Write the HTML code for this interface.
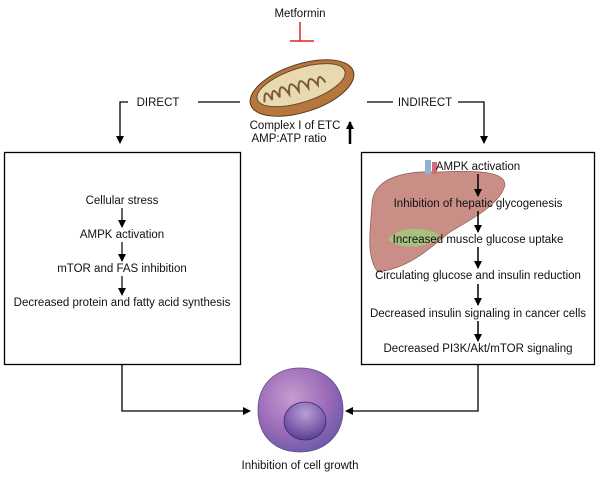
<!DOCTYPE html>
<html><head><style>
body{margin:0;background:#fff;width:600px;height:476px;overflow:hidden}
svg text{font-family:"Liberation Sans",sans-serif;font-size:11.5px;fill:#111}
</style></head><body>
<svg width="600" height="476" viewBox="0 0 600 476" xmlns="http://www.w3.org/2000/svg">
<defs>
<marker id="a" markerWidth="8" markerHeight="8" refX="7" refY="4" orient="auto" markerUnits="userSpaceOnUse"><path d="M0,0 L8,4 L0,8z" fill="#000"/></marker>
<radialGradient id="cg" cx="0.4" cy="0.35" r="0.7"><stop offset="0" stop-color="#c79bd0"/><stop offset="0.6" stop-color="#9b6bb8"/><stop offset="1" stop-color="#6a5aa8"/></radialGradient>
<radialGradient id="ng" cx="0.5" cy="0.3" r="0.7"><stop offset="0" stop-color="#b99fd6"/><stop offset="1" stop-color="#5b3f96"/></radialGradient>
</defs>
<text x="300" y="17" text-anchor="middle">Metformin</text>
<line x1="300" y1="22" x2="300" y2="41" stroke="#e0201e" stroke-width="1.5"/>
<line x1="290" y1="41" x2="314" y2="41" stroke="#e0201e" stroke-width="1.5"/>
<g transform="rotate(-18 302 88)">
<ellipse cx="302" cy="88" rx="54" ry="24" fill="#b5773d" stroke="#5a3a1a"/>
<ellipse cx="302" cy="85" rx="46" ry="17" fill="#e9d9b0" stroke="#6b4a26"/>
<path d="M262,90 q4,-16 8,0 q4,-16 8,0 q4,-18 10,0 q4,-18 10,0 q4,-18 10,0 q4,-16 10,0 q4,-14 8,0" fill="none" stroke="#7a5a30" stroke-width="2"/>
</g>
<polyline points="128,102 120,102 120,143" fill="none" stroke="#000" stroke-width="1.3" marker-end="url(#a)"/>
<text x="158" y="106" text-anchor="middle">DIRECT</text>
<line x1="198" y1="102" x2="240" y2="102" stroke="#000" stroke-width="1.3"/>
<line x1="367" y1="102" x2="393" y2="102" stroke="#000" stroke-width="1.3"/>
<text x="425" y="106" text-anchor="middle">INDIRECT</text>
<polyline points="458,102 484,102 484,143" fill="none" stroke="#000" stroke-width="1.3" marker-end="url(#a)"/>
<text x="295" y="129" text-anchor="middle">Complex I of ETC</text>
<text x="289" y="142" text-anchor="middle">AMP:ATP ratio</text>
<line x1="350" y1="144" x2="350" y2="122" stroke="#000" stroke-width="2.5" marker-end="url(#a)"/>
<rect x="4.5" y="152.5" width="236" height="212" fill="none" stroke="#000" stroke-width="1.3"/>
<g text-anchor="middle">
<text x="122" y="204">Cellular stress</text>
<text x="122" y="238">AMPK activation</text>
<text x="122" y="272">mTOR and FAS inhibition</text>
<text x="122" y="306">Decreased protein and fatty acid synthesis</text>
</g>
<g stroke="#000" stroke-width="1.2" marker-end="url(#a)">
<line x1="122" y1="208" x2="122" y2="227"/>
<line x1="122" y1="242" x2="122" y2="261"/>
<line x1="122" y1="276" x2="122" y2="295"/>
</g>
<rect x="361.5" y="152.5" width="233" height="212" fill="none" stroke="#000" stroke-width="1.3"/>
<path d="M372,205 C372,180 400,170 440,172 C480,170 505,172 505,185 C500,205 470,220 450,232 C430,248 410,268 378,272 C366,258 370,230 372,205z" fill="#c98e86" stroke="#8e5b55" stroke-width="0.7"/>
<path d="M388,240 C395,226 430,226 440,236 C432,246 405,252 388,240z" fill="#a8c080"/>
<rect x="425" y="160" width="6" height="14" fill="#8fb3d5"/>
<rect x="432" y="162" width="5" height="12" fill="#d36b78"/>
<g text-anchor="middle">
<text x="478" y="170">AMPK activation</text>
<text x="478" y="207">Inhibition of hepatic glycogenesis</text>
<text x="478" y="243">Increased muscle glucose uptake</text>
<text x="478" y="279">Circulating glucose and insulin reduction</text>
<text x="478" y="317">Decreased insulin signaling in cancer cells</text>
<text x="478" y="352">Decreased PI3K/Akt/mTOR signaling</text>
</g>
<g stroke="#000" stroke-width="1.5" marker-end="url(#a)">
<line x1="478" y1="174" x2="478" y2="196"/>
<line x1="478" y1="211" x2="478" y2="232"/>
<line x1="478" y1="247" x2="478" y2="268"/>
<line x1="478" y1="284" x2="478" y2="305"/>
<line x1="478" y1="321" x2="478" y2="341"/>
</g>
<polyline points="122,365 122,411 250,411" fill="none" stroke="#000" stroke-width="1.3" marker-end="url(#a)"/>
<polyline points="478,365 478,411 346,411" fill="none" stroke="#000" stroke-width="1.3" marker-end="url(#a)"/>
<path d="M300,368 C325,368 343,385 343,410 C343,435 325,452 300,452 C275,452 258,436 258,410 C258,385 275,368 300,368z" fill="url(#cg)" stroke="#5c4a8a" stroke-width="0.8"/>
<ellipse cx="305" cy="421" rx="21" ry="19" fill="url(#ng)" stroke="#3f2a70" stroke-width="0.8"/>
<text x="300" y="469" text-anchor="middle">Inhibition of cell growth</text>
</svg>
</body></html>
